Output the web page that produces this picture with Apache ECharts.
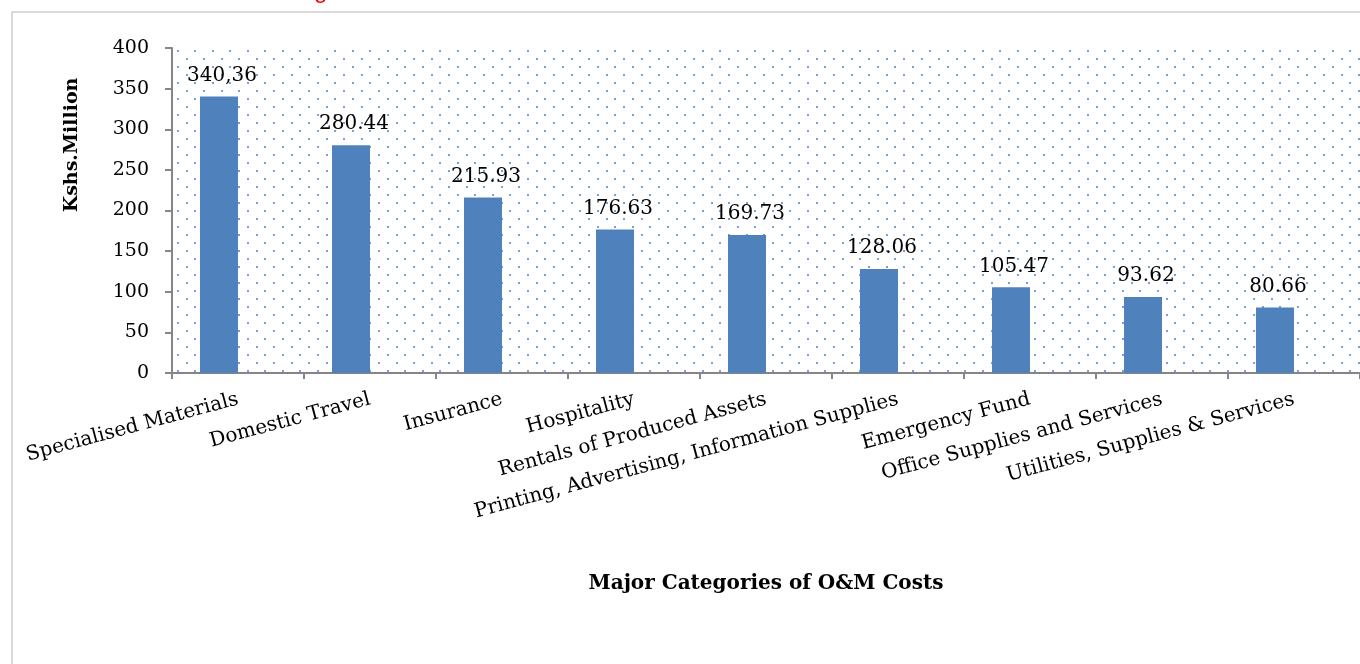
<!DOCTYPE html>
<html>
<head>
<meta charset="utf-8">
<script src="https://cdn.jsdelivr.net/npm/echarts@6/dist/echarts.min.js"></script>
<style>
  html, body { margin: 0; padding: 0; background: #fff; }
  #chart { width: 1360px; height: 664px; }
</style>
</head>
<body>
<div id="chart"></div>
<script>
const categories = [
  'Specialised Materials',
  'Domestic Travel',
  'Insurance',
  'Hospitality',
  'Rentals of Produced Assets',
  'Printing, Advertising, Information Supplies',
  'Emergency Fund',
  'Office Supplies and Services',
  'Utilities, Supplies & Services',
]
const costs = [340.36, 280.44, 215.93, 176.63, 169.73, 128.06, 105.47, 93.62, 80.66]
// labels as printed on the original (first one uses a comma)
const costLabels = ['340,36', '280.44', '215.93', '176.63', '169.73', '128.06', '105.47', '93.62', '80.66']
const yAxisTitle = 'Kshs.Million'
const xAxisTitle = 'Major Categories of O&M Costs'

const FONT = 'DejaVu Serif'
const BAR = '#4f81bd'
const AXIS = '#868686'

// dotted plot-area fill
const makeDots = () => {
  const c = document.createElement('canvas')
  c.width = 35
  c.height = 16
  const ctx = c.getContext('2d')
  ctx.fillStyle = 'rgba(62, 122, 212, 0.72)'
  ;[[2, 2], [19, 2], [11, 10], [28, 10]].forEach(([x, y]) => ctx.fillRect(x, y, 2, 2))
  return c
}

const chart = echarts.init(document.getElementById('chart'))

chart.setOption({
  backgroundColor: '#fff',
  animation: false,
  graphic: [
    {
      type: 'rect', silent: true, z: -10,
      shape: { x: 12, y: 12, width: 1400, height: 700 },
      style: { fill: 'none', stroke: '#d9d9d9', lineWidth: 2 },
    },
    {
      type: 'text', silent: true,
      x: 314, y: -9,
      style: { text: 'g', fill: '#ff0000', font: '24px "Liberation Sans"', verticalAlign: 'middle' },
    },
    {
      type: 'text', silent: true,
      x: 72, y: 145, rotation: Math.PI / 2,
      style: {
        text: yAxisTitle, fill: '#000', font: `bold 19px "${FONT}"`,
        align: 'center', verticalAlign: 'middle',
      },
    },
  ],
  grid: {
    left: 172, top: 48, width: 1196, height: 325,
    show: true, borderWidth: 0,
    backgroundColor: { image: makeDots(), repeat: 'repeat' },
  },
  xAxis: {
    type: 'category',
    data: categories,
    name: xAxisTitle,
    nameLocation: 'middle',
    nameGap: 201,
    nameTextStyle: { fontFamily: FONT, fontWeight: 'bold', fontSize: 20, color: '#000' },
    axisLine: { lineStyle: { color: AXIS, width: 2 } },
    axisTick: { show: true, length: 6, lineStyle: { color: AXIS, width: 2 } },
    axisLabel: {
      interval: 0, rotate: 15, margin: 26,
      fontFamily: FONT, fontSize: 20, color: '#000',
    },
    splitLine: { show: false },
  },
  yAxis: {
    type: 'value',
    min: 0, max: 400, interval: 50,
    axisLine: { show: true, lineStyle: { color: AXIS, width: 2 } },
    axisTick: { show: true, length: 7, lineStyle: { color: AXIS, width: 2 } },
    axisLabel: { margin: 23, fontFamily: FONT, fontSize: 19, color: '#000' },
    splitLine: { show: false },
  },
  series: [
    {
      name: 'O&M Costs',
      type: 'bar',
      data: costs,
      barWidth: 38,
      barGap: '0%',
      itemStyle: { color: BAR },
      label: {
        show: true, position: 'top', distance: 11, offset: [3, 0],
        formatter: (p) => costLabels[p.dataIndex],
        fontFamily: FONT, fontSize: 20, color: '#000',
      },
    },
    {
      // empty second series: keeps bars left of the band centre like the source
      name: 'blank',
      type: 'bar',
      data: costs.map(() => null),
      barWidth: 38,
    },
  ],
})
</script>
</body>
</html>
